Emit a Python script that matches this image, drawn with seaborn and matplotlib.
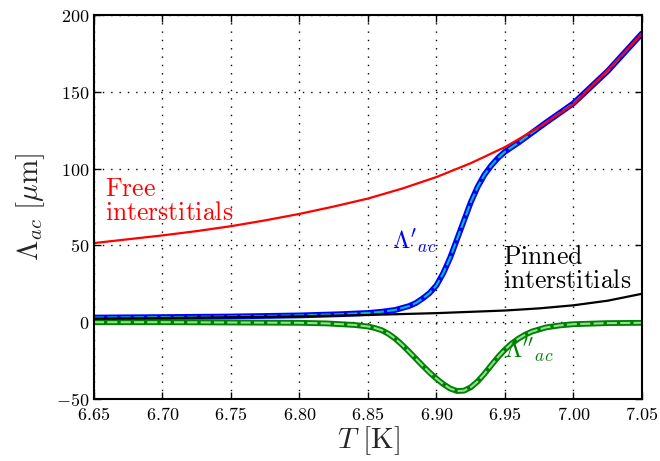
import seaborn as sns
import matplotlib.pyplot as plt
import pandas as pd
from matplotlib.ticker import FuncFormatter

# values
free_T = [6.65, 6.675, 6.70, 6.725, 6.75, 6.775, 6.80, 6.825, 6.85, 6.875,
          6.90, 6.925, 6.95, 6.975, 7.00, 7.025, 7.05]
free_lam = [51.5, 54.0, 56.5, 59.3, 62.5, 66.3, 70.5, 75.3, 80.5, 87.0,
            94.5, 103.5, 114.0, 127.0, 142.0, 164.0, 188.0]

pinned_T = [6.65, 6.70, 6.75, 6.80, 6.85, 6.90, 6.95, 6.975, 7.00, 7.025, 7.05]
pinned_lam = [2.3, 2.7, 3.2, 3.8, 4.7, 5.9, 7.6, 9.0, 11.0, 14.0, 18.5]

real_T = [6.65, 6.70, 6.75, 6.80, 6.83, 6.85, 6.86, 6.87, 6.88, 6.885, 6.89, 6.895,
          6.90, 6.905, 6.91, 6.915, 6.92, 6.925, 6.93, 6.935, 6.94, 6.945,
          6.95, 6.96, 6.97, 6.98, 7.00, 7.025, 7.05]
real_lam = [3.0, 3.3, 3.7, 4.4, 5.2, 6.0, 6.8, 8.0, 10.5, 12.5, 15.5, 19.0,
            24.0, 32.0, 42.0, 54.0, 66.0, 78.0, 88.0, 96.0, 102.0, 107.0,
            111.0, 117.0, 123.5, 130.0, 142.5, 163.5, 188.0]

imag_T = [6.65, 6.70, 6.75, 6.80, 6.82, 6.84, 6.85, 6.855, 6.86, 6.865, 6.87,
          6.875, 6.88, 6.885, 6.89, 6.895, 6.90, 6.905, 6.91, 6.915, 6.92,
          6.925, 6.93, 6.935, 6.94, 6.945, 6.95, 6.955, 6.96, 6.965, 6.97,
          6.98, 6.99, 7.00, 7.025, 7.05]
imag_lam = [0.0, 0.0, -0.2, -0.4, -0.8, -1.8, -2.8, -3.8, -5.2, -7.6, -10.8,
            -14.8, -19.2, -23.8, -28.4, -32.8, -36.8, -40.3, -43.2, -44.8, -44.6,
            -42.4, -38.6, -33.6, -28.0, -22.6, -17.8, -13.8, -10.6, -8.0, -6.0,
            -3.4, -2.1, -1.3, -0.6, -0.4]

free_df = pd.DataFrame({'T': free_T, 'lam': free_lam})
pinned_df = pd.DataFrame({'T': pinned_T, 'lam': pinned_lam})
real_df = pd.DataFrame({'T': real_T, 'lam': real_lam})
imag_df = pd.DataFrame({'T': imag_T, 'lam': imag_lam})

sns.set_style('ticks')
plt.rcParams['mathtext.fontset'] = 'cm'
plt.rcParams['font.family'] = ['DejaVu Serif']

fig = plt.figure(figsize=(6.6, 4.61), dpi=100)
ax = fig.add_axes([0.1424, 0.1345, 0.8303, 0.833])

# measured curves (thick) with model curves dashed on top
sns.lineplot(data=real_df, x='T', y='lam', ax=ax, color='#0000ff', lw=4.2)
sns.lineplot(data=real_df, x='T', y='lam', ax=ax, color='#00bfbf', lw=1.5,
             linestyle=(0, (4.8, 1.6)))
sns.lineplot(data=imag_df, x='T', y='lam', ax=ax, color='#008000', lw=4.2)
sns.lineplot(data=imag_df, x='T', y='lam', ax=ax, color='#90e090', lw=1.5,
             linestyle=(0, (4.8, 1.6)))
sns.lineplot(data=free_df, x='T', y='lam', ax=ax, color='#ff0000', lw=1.6)
sns.lineplot(data=pinned_df, x='T', y='lam', ax=ax, color='black', lw=1.6)

ax.set_xlim(6.65, 7.05)
ax.set_ylim(-50, 200)
ax.set_xticks([6.65, 6.70, 6.75, 6.80, 6.85, 6.90, 6.95, 7.00, 7.05])
ax.set_yticks([-50, 0, 50, 100, 150, 200])
ax.xaxis.set_major_formatter(FuncFormatter(lambda v, p: r'$%.2f$' % v))
ax.yaxis.set_major_formatter(FuncFormatter(lambda v, p: r'$%d$' % v))
ax.tick_params(direction='in', top=True, right=True, length=5, width=1,
               labelsize=13, colors='black')
ax.tick_params(axis='x', pad=5)
ax.grid(True, color='black', linestyle=(0, (1, 5)), lw=1)
for s in ax.spines.values():
    s.set_linewidth(1.5)
    s.set_color('black')

ax.set_xlabel(r'$T\ [\mathrm{K}]$', fontsize=21, labelpad=0)
ax.set_ylabel(r'$\Lambda_{ac}\ [\mu\mathrm{m}]$', fontsize=21, labelpad=6)

ax.text(6.658, 79, '$\\mathrm{Free}$\n$\\mathrm{interstitials}$', color='#ff0000',
        fontsize=18.5, linespacing=0.95, va='center', ha='left')
ax.text(6.9485, 35, '$\\mathrm{Pinned}$\n$\\mathrm{interstitials}$', color='black',
        fontsize=18.5, linespacing=0.95, va='center', ha='left')
ax.text(6.8675, 52, r"$\Lambda'_{ac}$", color='#0000ff', fontsize=18,
        va='center', ha='left')
ax.text(6.9495, -19, r"$\Lambda''_{ac}$", color='#008000', fontsize=18,
        va='center', ha='left')

fig.savefig('out.png', dpi=100)
